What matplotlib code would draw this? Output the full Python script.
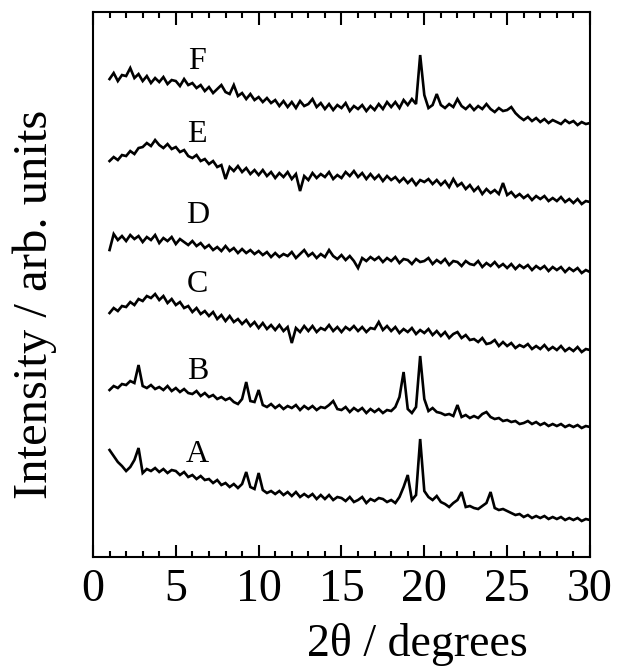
import numpy as np
import matplotlib.pyplot as plt
from matplotlib.ticker import MultipleLocator

plt.rcParams["font.family"] = ["Liberation Serif", "DejaVu Serif"]

# 2theta grid (degrees), one sample every 0.25 deg
two_theta = np.arange(1.0, 30.001, 0.25)

# intensities (arb. units, traces already offset)
trace_F = [
    478, 484, 476, 482, 481, 489, 479, 483, 476, 481, 474, 479,
    475, 480, 473, 477, 476, 471, 478, 472, 474, 469, 472, 466,
    470, 464, 468, 472, 465, 463, 472, 461, 464, 458, 463, 457,
    460, 455, 459, 454, 457, 451, 456, 450, 455, 449, 456, 451,
    453, 458, 450, 454, 448, 453, 447, 452, 449, 454, 446, 451,
    448, 452, 446, 451, 447, 453, 448, 455, 450, 455, 449, 457,
    452, 458, 453, 502, 462, 449, 452, 463, 452, 449, 453, 450,
    458, 451, 448, 452, 447, 451, 448, 453, 448, 445, 449, 446,
    447, 450, 444, 440, 437, 440, 436, 439, 435, 438, 434, 437,
    435, 433, 437, 434, 436, 432, 435, 433, 434,
]
trace_E = [
    396, 400, 397, 402, 401, 406, 403, 409, 410, 414, 411, 417,
    412, 409, 413, 408, 410, 405, 407, 401, 399, 402, 396, 398,
    393, 396, 390, 392, 378, 390, 386, 391, 385, 389, 383, 387,
    382, 387, 381, 385, 379, 384, 380, 385, 378, 383, 366, 381,
    377, 384, 379, 383, 380, 385, 378, 382, 379, 385, 381, 386,
    380, 384, 378, 383, 378, 382, 376, 381, 377, 380, 375, 379,
    374, 378, 372, 377, 375, 378, 373, 377, 372, 376, 370, 378,
    371, 374, 368, 372, 366, 370, 363, 368, 364, 367, 363, 374,
    362, 365, 360, 363, 359, 362, 357, 361, 358, 361, 356, 359,
    356, 360, 355, 358, 354, 358, 353, 356, 355,
]
trace_D = [
    307, 323, 317, 321, 316, 322, 318, 321, 315, 320, 317, 322,
    314, 319, 316, 320, 313, 318, 315, 312, 316, 311, 314, 309,
    312, 307, 310, 306, 311, 306, 309, 304, 308, 304, 307, 303,
    306, 302, 305, 300, 304, 300, 303, 301, 305, 299, 303, 307,
    301, 304, 299, 303, 300, 307, 301, 298, 302, 297, 301, 296,
    289, 299, 296, 300, 297, 300, 295, 299, 296, 300, 294, 298,
    297, 293, 298, 295, 296, 299, 293, 297, 294, 298, 292, 296,
    295, 291, 296, 293, 292, 296, 290, 294, 291, 295, 290, 293,
    289, 293, 288, 292, 289, 292, 287, 291, 288, 291, 286, 290,
    287, 290, 285, 289, 286, 289, 284, 287, 285,
]
trace_C = [
    244, 249, 246, 251, 250, 255, 252, 258, 256, 261, 259, 263,
    257, 261, 254, 258, 252, 255, 249, 251, 245, 249, 243, 246,
    241, 245, 238, 242, 236, 241, 235, 238, 233, 237, 231, 235,
    229, 234, 228, 232, 227, 232, 226, 230, 214, 229, 225, 231,
    226, 231, 225, 229, 227, 232, 226, 230, 225, 230, 227, 231,
    226, 230, 225, 229, 228, 235, 227, 231, 226, 230, 224, 228,
    225, 229, 223, 227, 224, 228, 222, 226, 221, 225, 219, 223,
    225, 219, 222, 217, 218, 215, 219, 213, 214, 217, 211, 215,
    211, 214, 209, 212, 210, 213, 208, 211, 208, 212, 207, 210,
    207, 211, 206, 209, 206, 210, 205, 208, 207,
]
trace_B = [
    167, 171, 169, 173, 172, 176, 174, 192, 171, 169, 172, 168,
    170, 167, 171, 166, 169, 165, 168, 164, 163, 166, 161, 164,
    160, 162, 158, 160, 157, 159, 155, 153, 158, 175, 156, 155,
    167, 152, 150, 153, 149, 152, 148, 151, 149, 152, 147, 151,
    148, 151, 147, 150, 149, 152, 156, 148, 147, 150, 145, 149,
    146, 149, 144, 148, 145, 148, 144, 147, 146, 150, 160, 185,
    148, 144, 150, 201, 158, 146, 149, 145, 144, 142, 143, 141,
    152, 140, 142, 139, 141, 139, 143, 145, 140, 138, 139, 136,
    137, 135, 136, 133, 134, 136, 133, 135, 132, 134, 131, 133,
    131, 133, 130, 132, 130, 132, 129, 131, 130,
]
trace_A = [
    107, 101, 95, 91, 86, 90, 97, 109, 84, 88, 86, 89,
    85, 88, 84, 87, 86, 82, 85, 80, 82, 78, 81, 77,
    78, 74, 77, 72, 74, 70, 73, 69, 73, 85, 70, 68,
    84, 67, 64, 66, 63, 66, 62, 65, 61, 65, 60, 63,
    60, 63, 58, 62, 58, 62, 57, 60, 59, 56, 60, 55,
    57, 60, 54, 58, 56, 59, 58, 55, 57, 54, 60, 70,
    82, 57, 62, 118, 66, 60, 57, 61, 55, 53, 50, 54,
    57, 65, 50, 51, 49, 48, 51, 54, 65, 49, 47, 48,
    46, 44, 42, 43, 40, 42, 39, 41, 39, 41, 38, 40,
    38, 40, 37, 39, 37, 39, 36, 38, 37,
]

sample_names = ["A", "B", "C", "D", "E", "F"]
label_x = [6.3, 6.3, 6.3, 6.3, 6.3, 6.3]
label_y = [103, 186, 273, 342, 423, 496]

traces = [trace_A, trace_B, trace_C, trace_D, trace_E, trace_F]

fig = plt.figure(figsize=(6.17, 6.69), dpi=100)
ax = fig.add_axes([0.1507, 0.1674, 0.8055, 0.8146])

for tr in traces:
    ax.plot(two_theta, tr, color="black", lw=1.9, solid_joinstyle="miter")

for name, lx, ly in zip(sample_names, label_x, label_y):
    ax.text(lx, ly, name, fontsize=23, ha="center", va="center")

ax.set_xlim(0, 30)
ax.set_ylim(0, 545)
ax.xaxis.set_major_locator(MultipleLocator(5))
ax.xaxis.set_minor_locator(MultipleLocator(1))
ax.tick_params(axis="x", which="both", direction="in", top=True, bottom=True,
               labelsize=33, pad=8, width=1.5)
ax.tick_params(axis="x", which="major", length=9)
ax.tick_params(axis="x", which="minor", length=4.5)
ax.set_yticks([])
for sp in ax.spines.values():
    sp.set_linewidth(1.5)

ax.set_xlabel("2θ / degrees", fontsize=33)
ax.xaxis.set_label_coords(0.652, -0.122)
ax.set_ylabel("Intensity / arb. units", fontsize=35)
ax.yaxis.set_label_coords(-0.072, 0.464)

fig.savefig("out.png", dpi=100)
